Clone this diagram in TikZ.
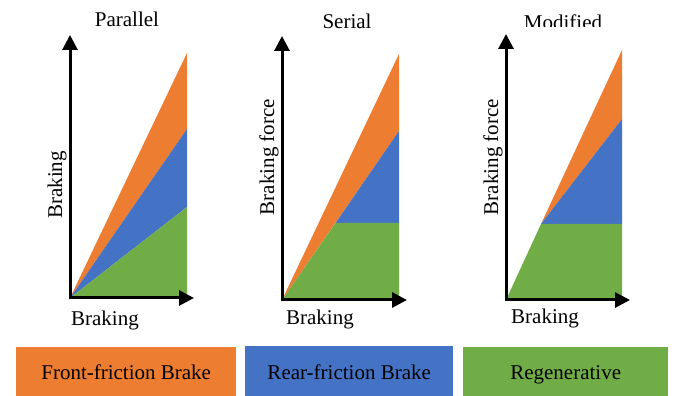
\documentclass[tikz,border=0pt]{standalone}
\usepackage{fontspec}
\setmainfont{Liberation Serif}
\usetikzlibrary{arrows.meta}
\definecolor{cor}{HTML}{ED7D31}
\definecolor{cbl}{HTML}{4472C4}
\definecolor{cgr}{HTML}{70AD47}
\begin{document}
\begin{tikzpicture}[x=1pt,y=1pt,
  axisline/.style={line width=3pt,-{Triangle[length=15pt,width=15pt]}},
  lbl/.style={font=\fontsize{21}{24}\selectfont, inner sep=0pt, anchor=base},
  legbox/.style={minimum height=49pt, inner sep=0pt, anchor=south west,
    font=\fontsize{21}{24}\selectfont, text height=17pt, text depth=0pt}]
\useasboundingbox (0,0) rectangle (686,396);
% ---------- panel 1: Parallel ----------
\coordinate (O1) at (70,98);
\coordinate (T1) at (187,343);
\coordinate (M1) at (187,267);
\coordinate (G1) at (187,189);
\coordinate (B1) at (187,98);
\fill[cor] (O1) -- (T1) -- (M1) -- cycle;
\fill[cbl] (O1) -- (M1) -- (G1) -- cycle;
\fill[cgr] (O1) -- (G1) -- (B1) -- cycle;
\coordinate (Y1) at (70,361);
\coordinate (X1) at (194,98);
\draw[axisline] (70,96.5) -- (Y1);
\draw[axisline] (68.5,98) -- (X1);
\node[lbl] (t1) at (127,369) {Parallel};
\node[lbl,rotate=90] (yl1) at (62,211) {Braking};
\node[lbl] (xl1) at (105,70) {Braking};
% ---------- panel 2: Serial ----------
\coordinate (O2) at (282,96);
\coordinate (T2) at (399,342);
\coordinate (M2) at (399,265);
\coordinate (J2) at (335.5,173);
\coordinate (G2) at (399,173);
\coordinate (B2) at (399,96);
\fill[cor] (O2) -- (T2) -- (M2) -- cycle;
\fill[cbl] (J2) -- (M2) -- (G2) -- cycle;
\fill[cgr] (O2) -- (J2) -- (G2) -- (B2) -- cycle;
\coordinate (Y2) at (282,360);
\coordinate (X2) at (407,96);
\draw[axisline] (282,94.5) -- (Y2);
\draw[axisline] (280.5,96) -- (X2);
\node[lbl] (t2) at (347,367) {Serial};
\node[lbl,rotate=90] (yl2) at (274,239) {Braking force};
\node[lbl] (xl2) at (320,71) {Braking};
% ---------- panel 3: Modified ----------
\coordinate (O3) at (506,96);
\coordinate (T3) at (622,346);
\coordinate (M3) at (622,277);
\coordinate (J3) at (541,172);
\coordinate (G3) at (622,172);
\coordinate (B3) at (622,96);
\fill[cor] (J3) -- (T3) -- (M3) -- cycle;
\fill[cbl] (J3) -- (M3) -- (G3) -- cycle;
\fill[cgr] (O3) -- (J3) -- (G3) -- (B3) -- cycle;
\coordinate (Y3) at (506,362);
\coordinate (X3) at (630,96);
\draw[axisline] (506,94.5) -- (Y3);
\draw[axisline] (504.5,96) -- (X3);
\begin{scope}
  \clip (440,369) rectangle (686,396);
  \node[lbl] (t3) at (563,366) {Modified};
\end{scope}
\node[lbl,rotate=90] (yl3) at (498,239) {Braking force};
\node[lbl] (xl3) at (545,72) {Braking};
% ---------- legend ----------
\node[legbox,fill=cor,minimum width=220pt] (lf) at (16,0) {Front-friction Brake};
\node[legbox,fill=cbl,minimum width=208pt,minimum height=50pt] (lr) at (245,0) {Rear-friction Brake};
\node[legbox,fill=cgr,minimum width=205pt] (lg) at (463,0) {Regenerative};
\end{tikzpicture}
\end{document}
